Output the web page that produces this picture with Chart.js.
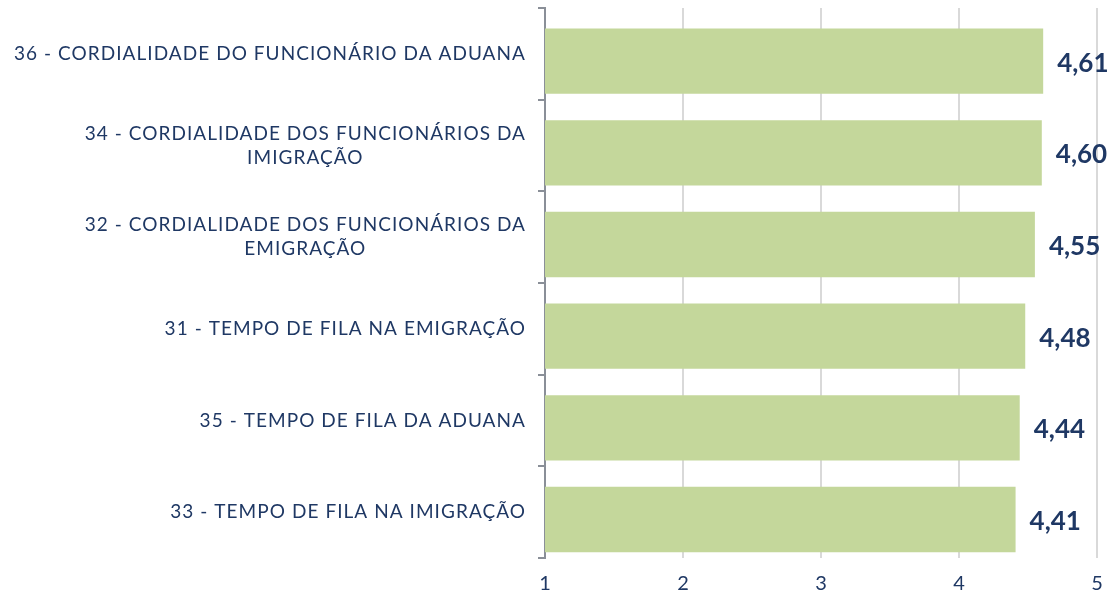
<!DOCTYPE html>
<html>
<head>
<meta charset="utf-8">
<script src="https://cdn.jsdelivr.net/npm/chart.js@4.4.1/dist/chart.umd.min.js"></script>
<style>
  html, body { margin: 0; padding: 0; background: #ffffff; }
  #wrap { width: 1113px; height: 593px; position: relative; }
</style>
</head>
<body>
<div id="wrap"><canvas id="c" width="1113" height="593"></canvas></div>
<script>
const categories = [
  ["36 - CORDIALIDADE DO FUNCIONÁRIO DA ADUANA"],
  ["34 - CORDIALIDADE DOS FUNCIONÁRIOS DA", "IMIGRAÇÃO"],
  ["32 - CORDIALIDADE DOS FUNCIONÁRIOS DA", "EMIGRAÇÃO"],
  ["31 - TEMPO DE FILA NA EMIGRAÇÃO"],
  ["35 - TEMPO DE FILA DA ADUANA"],
  ["33 - TEMPO DE FILA NA IMIGRAÇÃO"]
];
const scores = [4.61, 4.60, 4.55, 4.48, 4.44, 4.41];
const valueLabels = ["4,61", "4,60", "4,55", "4,48", "4,44", "4,41"];
const xTicks = [1, 2, 3, 4, 5];
const spacer = [0, 0, 0, 0, 0, 0];

const NAVY = "#1f3864";
const FONT = "Lato, 'Open Sans', sans-serif";

const labelPlugin = {
  id: "labelPlugin",
  afterDatasetsDraw(chart) {
    const ctx = chart.ctx;
    const y = chart.scales.y;
    ctx.save();
    // category labels
    ctx.font = "19px " + FONT;
    ctx.letterSpacing = "1.05px";
    ctx.fillStyle = NAVY;
    ctx.textBaseline = "middle";
    ctx.textAlign = "center";
    const right = y.right - 19;
    const lh = 24;
    categories.forEach((lines, i) => {
      const cy = y.getPixelForTick(i);
      const maxW = Math.max(...lines.map(l => ctx.measureText(l).width));
      const cx = right - maxW / 2;
      const y0 = cy - (lines.length - 1) * lh / 2;
      lines.forEach((l, k) => ctx.fillText(l, cx, y0 + k * lh));
    });
    ctx.letterSpacing = "0px";
    // value labels
    const meta = chart.getDatasetMeta(1);
    ctx.font = "bold 26px " + FONT;
    ctx.textAlign = "left";
    meta.data.forEach((bar, i) => {
      ctx.fillText(valueLabels[i], bar.x + 14, bar.y + 2);
    });
    ctx.restore();
  }
};

new Chart(document.getElementById("c"), {
  type: "bar",
  data: {
    labels: categories,
    datasets: [
      { data: spacer, backgroundColor: "rgba(0,0,0,0)", borderWidth: 0 },
      { data: scores, backgroundColor: "#c4d79b", borderWidth: 0 }
    ]
  },
  options: {
    indexAxis: "y",
    responsive: false,
    animation: false,
    categoryPercentage: 0.32,
    barPercentage: 4.46,
    layout: { padding: { top: 8, right: 16, left: 0, bottom: 0 } },
    plugins: { legend: { display: false }, tooltip: { enabled: false } },
    scales: {
      x: {
        min: 1, max: 5,
        afterBuildTicks(scale) { scale.ticks = xTicks.map(v => ({ value: v })); },
        afterFit(scale) { scale.height = 35; scale.paddingRight = 0; scale.paddingLeft = 0; },
        border: { display: false },
        grid: { color: "#d9d9d9", lineWidth: 2, drawTicks: false },
        ticks: { color: NAVY, font: { family: FONT, size: 20 }, padding: 14 }
      },
      y: {
        afterFit(scale) { scale.width = 545; },
        border: { display: true, color: "#8a8f98", width: 2 },
        grid: { offset: true, drawOnChartArea: false, drawTicks: true, tickLength: 7, color: "#8a8f98", lineWidth: 2 },
        ticks: { display: false }
      }
    }
  },
  plugins: [labelPlugin]
});
</script>
</body>
</html>
